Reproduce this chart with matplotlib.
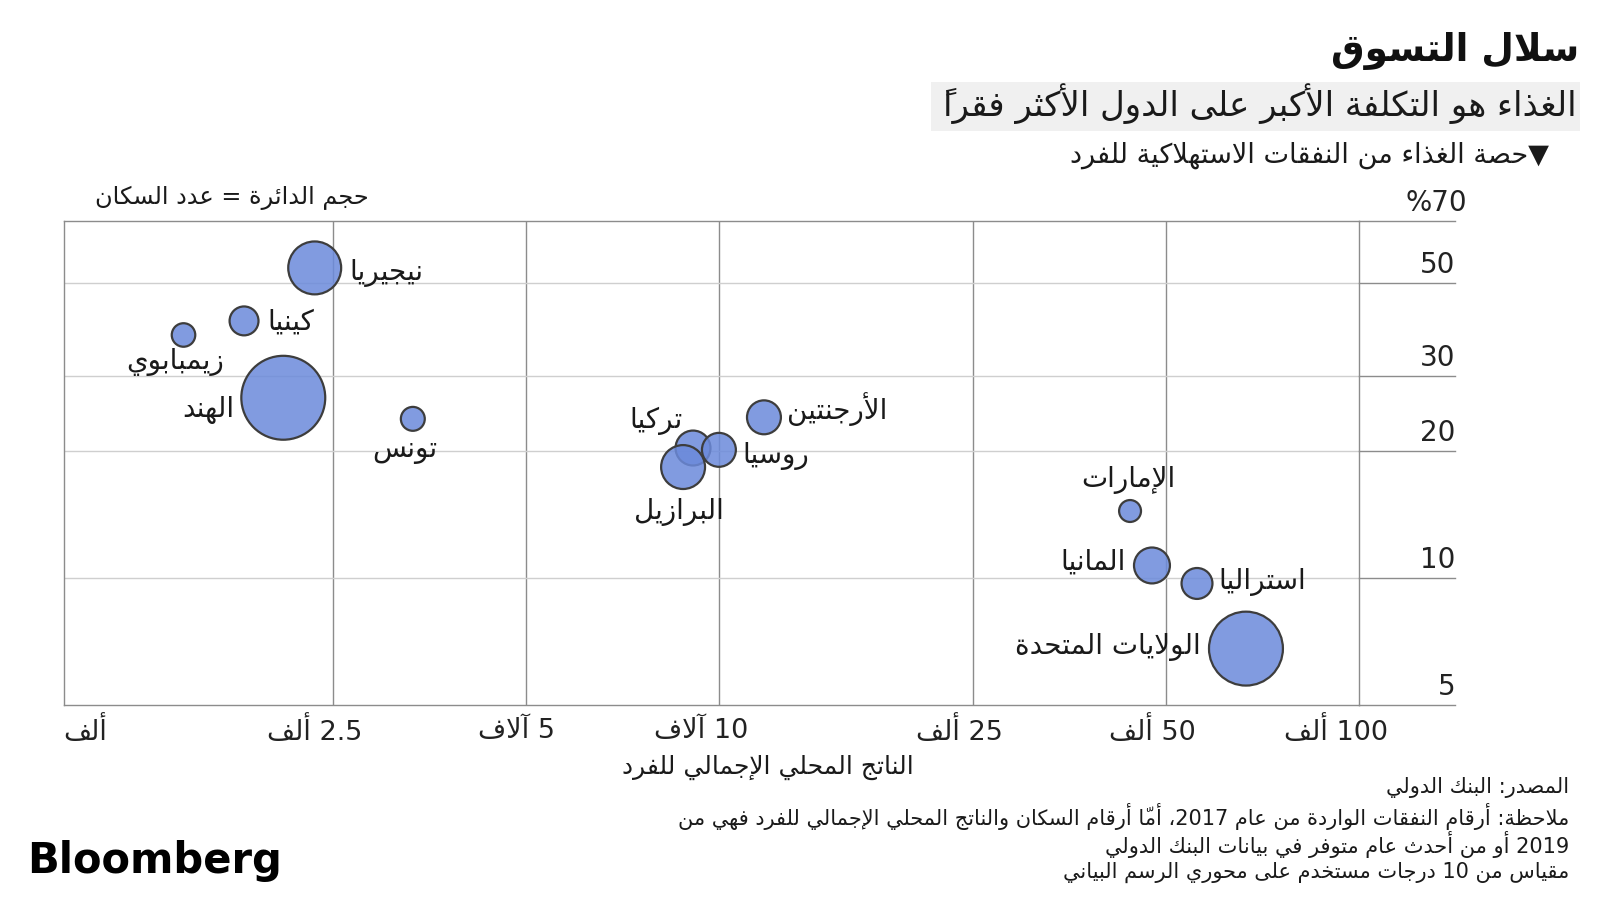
import re
import matplotlib
matplotlib.use('Agg')
import matplotlib.pyplot as plt
from matplotlib.transforms import blended_transform_factory

plt.rcParams['font.family'] = ['DejaVu Sans']

# --- data ---
countries = ['نيجيريا', 'كينيا', 'زيمبابوي', 'الهند', 'تونس', 'الأرجنتين', 'تركيا',
             'روسيا', 'البرازيل', 'الإمارات', 'المانيا', 'استراليا', 'الولايات المتحدة']
gdp_per_capita = [2340, 1815, 1460, 2090, 3330, 11770, 9120,
                  10010, 8800, 43900, 47500, 55850, 66600]
food_share = [54.2, 40.6, 37.6, 26.7, 23.8, 24.0, 20.3,
              20.1, 18.3, 14.4, 10.7, 9.7, 6.8]
bubble_radius = [27.5, 15.5, 12.8, 43, 13, 18, 18.5, 18, 23, 12, 19, 16.5, 38]

x_ticks = [1000, 2500, 5000, 10000, 25000, 50000, 100000]
x_tick_labels = ['ألف', '2.5 ألف', '5 آلاف', '10 آلاف', '25 ألف', '50 ألف', '100 ألف']
y_ticks = [5, 10, 20, 30, 50, 70]
y_tick_labels = ['5', '10', '20', '30', '50', '70%']

title = 'سلال التسوق'
subtitle = 'الغذاء هو التكلفة الأكبر على الدول الأكثر فقراً'
y_title = '▼حصة الغذاء من النفقات الاستهلاكية للفرد'
size_note = 'حجم الدائرة = عدد السكان'
x_title = 'الناتج المحلي الإجمالي للفرد'
footnotes = ['المصدر: البنك الدولي',
             'ملاحظة: أرقام النفقات الواردة من عام 2017، أمّا أرقام السكان والناتج المحلي الإجمالي للفرد فهي من',
             '2019 أو من أحدث عام متوفر في بيانات البنك الدولي',
             'مقياس من 10 درجات مستخدم على محوري الرسم البياني']

# label placement (px offset from bubble centre, alignment)
label_pos = [(35, -5, 'left'), (23, -1, 'left'), (40, -27, 'right'), (-49, -12, 'right'),
             (-8, -31, 'center'), (23, 8, 'left'), (-10, 27, 'right'), (23, -6, 'left'),
             (-4, -45, 'center'), (-2, 31, 'center'), (-26, 4, 'right'), (21, 1, 'left'),
             (-45, 2, 'right')]

# --- minimal arabic shaping + right-to-left ordering (matplotlib does neither) ---
codes = list(range(0x621, 0x63B)) + list(range(0x641, 0x64B))
counts = [1, 2, 2, 2, 2, 4, 2, 4, 2, 4, 4, 4, 4, 4, 2, 2, 2, 2] + [4] * 15 + [2, 2, 4]
FORMS = {}
start = 0xFE80
for c, n in zip(codes, counts):
    FORMS[chr(c)] = [chr(start + k) for k in range(n)]
    start += n
LAM_ALEF = {'آ': ('\uFEF5', '\uFEF6'), 'أ': ('\uFEF7', '\uFEF8'),
            'إ': ('\uFEF9', '\uFEFA'), 'ا': ('\uFEFB', '\uFEFC')}
MARKS = set(chr(c) for c in range(0x64B, 0x653)) | {'\u0670'}


def shape(s):
    res = []
    prev_joins = False
    i = 0
    while i < len(s):
        ch = s[i]
        if ch in MARKS:
            res.append(ch)
            i += 1
            continue
        if ch not in FORMS:
            res.append(ch)
            prev_joins = False
            i += 1
            continue
        j = i + 1
        while j < len(s) and s[j] in MARKS:
            j += 1
        nxt = s[j] if j < len(s) else None
        f = FORMS[ch]
        right = prev_joins and len(f) >= 2
        if ch == 'ل' and nxt in LAM_ALEF:
            res.append(LAM_ALEF[nxt][1] if right else LAM_ALEF[nxt][0])
            res.extend(s[i + 1:j])
            prev_joins = False
            i = j + 1
            continue
        left = len(f) == 4 and nxt in FORMS and len(FORMS[nxt]) >= 2
        idx = 3 if (right and left) else 1 if right else 2 if left else 0
        res.append(f[idx])
        prev_joins = len(f) == 4
        i += 1
    return ''.join(res)


def ar(text):
    # reverse everything except runs of digits/latin; marks end up before their base,
    # which is where DejaVu draws them
    tokens = re.findall(r'[0-9A-Za-z][0-9A-Za-z.,]*[0-9A-Za-z]|[0-9A-Za-z]|[^0-9A-Za-z]+', shape(text))
    out = []
    for tok in reversed(tokens):
        if re.match(r'[0-9A-Za-z]', tok):
            out.append(tok)
        else:
            out.append(tok[::-1])
    return ''.join(out)


W, H = 1600, 900
fig = plt.figure(figsize=(16, 9), dpi=100)
ax = fig.add_axes([64 / W, 1 - 705 / H, 1295 / W, 484 / H])


def fx(px):
    return px / W


def fy(py):
    return 1 - py / H


ax.set_xscale('log')
ax.set_yscale('log')
ax.set_xlim(950, 100000)
ax.set_ylim(5, 70)
ax.set_xticks([])
ax.set_yticks([])
ax.minorticks_off()
for s in ax.spines.values():
    s.set_color('#8c8c8c')
    s.set_linewidth(1.0)

grid_dark = '#8c8c8c'
for v in x_ticks[1:-1]:
    ax.axvline(v, color=grid_dark, lw=1.0, zorder=1)
ext = blended_transform_factory(ax.transAxes, ax.transData)
x_right = (1455 - 64) / 1295
for v in y_ticks:
    if 5 < v < 70:
        ax.axhline(v, color='#cfcfcf', lw=1.0, zorder=1)
    ax.plot([1.0, x_right], [v, v], transform=ext, color=grid_dark, lw=1.0, clip_on=False)

for v, lab in zip(y_ticks, y_tick_labels):
    dx = 9 if v == 70 else 0
    ax.annotate(ar(lab), xy=(x_right, v), xycoords=('axes fraction', 'data'),
                xytext=(dx, 3), textcoords='offset points', ha='right', va='bottom',
                fontsize=20, color='#222222')

for v, lab in zip(x_ticks, x_tick_labels):
    ax.annotate(ar(lab), xy=(v, 0), xycoords=('data', 'axes fraction'),
                xytext=(21, -19), textcoords='offset points', ha='right', va='center',
                fontsize=19.5, color='#222222', annotation_clip=False)

# bubbles
sizes = [(2 * r * 0.72 - 1.5) ** 2 for r in bubble_radius]
ax.scatter(gdp_per_capita, food_share, s=sizes, facecolor=(0.42, 0.54, 0.86, 0.85),
           edgecolor='#3d3d3d', linewidth=1.6, zorder=3, clip_on=False)

for name, x, y, (dx, dy, ha) in zip(countries, gdp_per_capita, food_share, label_pos):
    ax.annotate(ar(name), xy=(x, y), xytext=(dx * 0.72, dy * 0.72), textcoords='offset points',
                ha=ha, va='center', fontsize=20, color='#1a1a1a', zorder=4)

# titles
fig.text(fx(1579), fy(51), ar(title), ha='right', va='center', fontsize=27,
         fontweight='bold', color='#111111')
fig.patches.append(plt.Rectangle((fx(931), fy(131)), fx(649), 49 / H, transform=fig.transFigure,
                                 facecolor='#f0f0f0', edgecolor='none', zorder=0))
fig.text(fx(1577), fy(104), ar(subtitle), ha='right', va='center', fontsize=24.5, color='#1a1a1a')
fig.text(fx(1549), fy(155), ar(y_title), ha='right', va='center', fontsize=19.5, color='#1a1a1a')
fig.text(fx(369), fy(198), ar(size_note), ha='right', va='center', fontsize=17.3, color='#1a1a1a')
fig.text(fx(768), fy(767), ar(x_title), ha='center', va='center', fontsize=18, color='#1a1a1a')

for i, line in enumerate(footnotes):
    fig.text(fx(1569), fy(788 + 28 * i), ar(line), ha='right', va='center', fontsize=15,
             color='#1a1a1a')

fig.text(fx(27), fy(873), 'Bloomberg', ha='left', va='baseline', fontsize=30,
         fontweight='bold', color='black')

fig.savefig('out.png', dpi=100)
